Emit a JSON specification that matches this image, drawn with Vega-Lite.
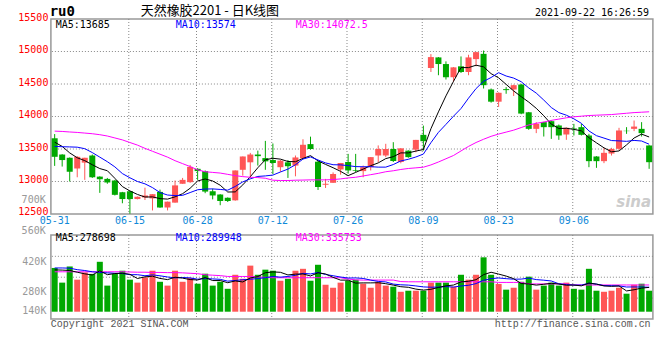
{
 "$schema": "https://vega.github.io/schema/vega-lite/v6.json",
 "background": "white",
 "padding": {"left": 16.9, "top": 3, "right": 5, "bottom": 5},
 "bounds": "flush",
 "spacing": 21,
 "config": {
  "view": {"stroke": "#999999", "strokeWidth": 1.5},
  "axis": {"title": null, "ticks": false, "domain": false, "labelFont": "DejaVu Sans Mono", "labelFontSize": 10, "labelOverlap": false, "tickCount": 20},
  "text": {"font": "DejaVu Sans Mono", "fontSize": 10}
 },
 "resolve": {"scale": {"x": "shared", "y": "independent"}},
 "datasets": {
  "k": [
   {"d":"05-31","o":13665,"h":13730,"l":13240,"c":13380,"m5":13605,"m10":13540,"m30":13775,"v":370,"mv5":361,"mv10":370,"mv30":352},
   {"d":"06-01","o":13415,"h":13420,"l":13230,"c":13330,"m5":13540,"m10":13535,"m30":13770,"v":301,"mv5":360,"mv10":370,"mv30":352},
   {"d":"06-02","o":13365,"h":13370,"l":13000,"c":13150,"m5":13440,"m10":13532,"m30":13762,"v":377,"mv5":358,"mv10":369,"mv30":352},
   {"d":"06-03","o":13200,"h":13390,"l":13065,"c":13380,"m5":13365,"m10":13528,"m30":13755,"v":315,"mv5":350,"mv10":362,"mv30":352},
   {"d":"06-04","o":13290,"h":13365,"l":13025,"c":13365,"m5":13321,"m10":13505,"m30":13745,"v":349,"mv5":342.4,"mv10":358,"mv30":352},
   {"d":"06-07","o":13400,"h":13415,"l":13055,"c":13065,"m5":13258,"m10":13445,"m30":13735,"v":342,"mv5":336.8,"mv10":352,"mv30":352},
   {"d":"06-08","o":13075,"h":13080,"l":12825,"c":13035,"m5":13199,"m10":13375,"m30":13720,"v":399,"mv5":356.4,"mv10":349,"mv30":352},
   {"d":"06-09","o":13040,"h":13055,"l":12965,"c":12985,"m5":13166,"m10":13305,"m30":13700,"v":287,"mv5":338.4,"mv10":347,"mv30":352},
   {"d":"06-10","o":13015,"h":13025,"l":12785,"c":12795,"m5":13049,"m10":13225,"m30":13670,"v":342,"mv5":343.8,"mv10":345,"mv30":352},
   {"d":"06-11","o":12835,"h":12840,"l":12665,"c":12730,"m5":12922,"m10":13122,"m30":13640,"v":357,"mv5":345.4,"mv10":343.9,"mv30":352},
   {"d":"06-15","o":12850,"h":12855,"l":12505,"c":12730,"m5":12855,"m10":13057,"m30":13600,"v":315,"mv5":340,"mv10":338.4,"mv30":351},
   {"d":"06-16","o":12730,"h":12770,"l":12725,"c":12765,"m5":12801,"m10":13000,"m30":13560,"v":301,"mv5":320.4,"mv10":338.4,"mv30":350},
   {"d":"06-17","o":12755,"h":12905,"l":12715,"c":12785,"m5":12761,"m10":12964,"m30":13510,"v":326,"mv5":328.2,"mv10":333.3,"mv30":350},
   {"d":"06-18","o":12740,"h":12805,"l":12555,"c":12805,"m5":12763,"m10":12906,"m30":13465,"v":357,"mv5":331.2,"mv10":337.5,"mv30":349},
   {"d":"06-21","o":12840,"h":12875,"l":12595,"c":12600,"m5":12737,"m10":12830,"m30":13420,"v":305,"mv5":320.8,"mv10":333.1,"mv30":349},
   {"d":"06-22","o":12600,"h":12690,"l":12555,"c":12690,"m5":12729,"m10":12792,"m30":13375,"v":287,"mv5":315.2,"mv10":327.6,"mv30":348},
   {"d":"06-23","o":12675,"h":13015,"l":12675,"c":12940,"m5":12764,"m10":12783,"m30":13320,"v":357,"mv5":326.4,"mv10":323.4,"mv30":348},
   {"d":"06-24","o":12965,"h":13055,"l":12965,"c":13025,"m5":12812,"m10":12787,"m30":13275,"v":305,"mv5":322.2,"mv10":325.2,"mv30":347},
   {"d":"06-25","o":12990,"h":13255,"l":12980,"c":13225,"m5":12896,"m10":12830,"m30":13230,"v":323,"mv5":315.4,"mv10":323.3,"mv30":345},
   {"d":"06-28","o":13195,"h":13205,"l":13025,"c":13160,"m5":13008,"m10":12873,"m30":13180,"v":296,"mv5":313.6,"mv10":317.2,"mv30":343},
   {"d":"06-29","o":13160,"h":13170,"l":12820,"c":12845,"m5":13039,"m10":12884,"m30":13150,"v":343,"mv5":324.8,"mv10":320,"mv30":338},
   {"d":"06-30","o":12850,"h":12890,"l":12725,"c":12785,"m5":13008,"m10":12886,"m30":13140,"v":287,"mv5":310.8,"mv10":318.6,"mv30":336},
   {"d":"07-01","o":12800,"h":12805,"l":12635,"c":12700,"m5":12943,"m10":12878,"m30":13130,"v":305,"mv5":310.8,"mv10":316.5,"mv30":334},
   {"d":"07-02","o":12750,"h":12755,"l":12685,"c":12700,"m5":12838,"m10":12867,"m30":13110,"v":272,"mv5":300.6,"mv10":308,"mv30":330},
   {"d":"07-05","o":12710,"h":13170,"l":12705,"c":13170,"m5":12840,"m10":12924,"m30":13090,"v":338,"mv5":309,"mv10":311.3,"mv30":330},
   {"d":"07-06","o":13180,"h":13385,"l":13090,"c":13385,"m5":12948,"m10":12994,"m30":13075,"v":319,"mv5":304.2,"mv10":314.5,"mv30":330},
   {"d":"07-07","o":13295,"h":13440,"l":13055,"c":13415,"m5":13074,"m10":13041,"m30":13065,"v":381,"mv5":323,"mv10":316.9,"mv30":330},
   {"d":"07-08","o":13415,"h":13475,"l":13245,"c":13390,"m5":13212,"m10":13078,"m30":13060,"v":338,"mv5":329.6,"mv10":320.2,"mv30":328},
   {"d":"07-09","o":13360,"h":13625,"l":13180,"c":13310,"m5":13334,"m10":13086,"m30":13050,"v":362,"mv5":347.6,"mv10":324.1,"mv30":326},
   {"d":"07-12","o":13330,"h":13585,"l":13115,"c":13285,"m5":13357,"m10":13099,"m30":13020,"v":357,"mv5":351.4,"mv10":330.2,"mv30":324},
   {"d":"07-13","o":13220,"h":13330,"l":13150,"c":13320,"m5":13344,"m10":13146,"m30":13015,"v":310,"mv5":349.6,"mv10":326.9,"mv30":324},
   {"d":"07-14","o":13295,"h":13330,"l":13055,"c":13235,"m5":13308,"m10":13191,"m30":13015,"v":319,"mv5":337.2,"mv10":330.1,"mv30":324},
   {"d":"07-15","o":13245,"h":13400,"l":13080,"c":13370,"m5":13304,"m10":13258,"m30":13020,"v":357,"mv5":341,"mv10":335.3,"mv30":324},
   {"d":"07-16","o":13355,"h":13650,"l":13345,"c":13565,"m5":13355,"m10":13345,"m30":13022,"v":366,"mv5":341.8,"mv10":344.7,"mv30":324},
   {"d":"07-19","o":13575,"h":13690,"l":13490,"c":13500,"m5":13398,"m10":13378,"m30":13025,"v":310,"mv5":332.4,"mv10":341.9,"mv30":324},
   {"d":"07-20","o":13305,"h":13320,"l":12870,"c":12915,"m5":13317,"m10":13331,"m30":13025,"v":385,"mv5":347.4,"mv10":348.5,"mv30":324},
   {"d":"07-21","o":12950,"h":13040,"l":12900,"c":12965,"m5":13263,"m10":13286,"m30":13025,"v":291,"mv5":341.8,"mv10":339.5,"mv30":324},
   {"d":"07-22","o":12980,"h":13140,"l":12980,"c":13115,"m5":13212,"m10":13258,"m30":13030,"v":277,"mv5":325.8,"mv10":333.4,"mv30":324},
   {"d":"07-23","o":13185,"h":13285,"l":13105,"c":13285,"m5":13156,"m10":13256,"m30":13040,"v":301,"mv5":312.8,"mv10":327.3,"mv30":324},
   {"d":"07-26","o":13300,"h":13425,"l":13120,"c":13170,"m5":13090,"m10":13244,"m30":13055,"v":310,"mv5":312.8,"mv10":322.6,"mv30":318},
   {"d":"07-27","o":13175,"h":13425,"l":13145,"c":13165,"m5":13140,"m10":13229,"m30":13065,"v":315,"mv5":298.8,"mv10":323.1,"mv30":314},
   {"d":"07-28","o":13160,"h":13245,"l":13065,"c":13220,"m5":13191,"m10":13227,"m30":13085,"v":296,"mv5":299.8,"mv10":320.8,"mv30":313},
   {"d":"07-29","o":13220,"h":13375,"l":13170,"c":13375,"m5":13243,"m10":13228,"m30":13105,"v":277,"mv5":299.8,"mv10":312.8,"mv30":313},
   {"d":"07-30","o":13400,"h":13555,"l":13297,"c":13500,"m5":13286,"m10":13221,"m30":13125,"v":305,"mv5":300.6,"mv10":306.7,"mv30":313},
   {"d":"08-02","o":13400,"h":13580,"l":13375,"c":13500,"m5":13352,"m10":13221,"m30":13150,"v":287,"mv5":296,"mv10":304.4,"mv30":313},
   {"d":"08-03","o":13500,"h":13605,"l":13300,"c":13315,"m5":13382,"m10":13261,"m30":13165,"v":282,"mv5":289.4,"mv10":294.1,"mv30":313},
   {"d":"08-04","o":13300,"h":13510,"l":13280,"c":13510,"m5":13440,"m10":13316,"m30":13185,"v":258,"mv5":281.8,"mv10":290.8,"mv30":306},
   {"d":"08-05","o":13475,"h":13480,"l":13365,"c":13375,"m5":13440,"m10":13342,"m30":13200,"v":263,"mv5":279,"mv10":289.4,"mv30":305},
   {"d":"08-06","o":13490,"h":13640,"l":13450,"c":13640,"m5":13468,"m10":13377,"m30":13210,"v":263,"mv5":270.6,"mv10":285.6,"mv30":305},
   {"d":"08-09","o":13718,"h":13860,"l":13475,"c":13620,"m5":13492,"m10":13422,"m30":13220,"v":263,"mv5":265.8,"mv10":280.9,"mv30":305},
   {"d":"08-10","o":14746,"h":14960,"l":14685,"c":14914,"m5":13812,"m10":13597,"m30":13255,"v":301,"mv5":269.6,"mv10":279.5,"mv30":305},
   {"d":"08-11","o":14909,"h":14915,"l":14635,"c":14807,"m5":14071,"m10":13756,"m30":13300,"v":301,"mv5":278.2,"mv10":280,"mv30":305},
   {"d":"08-12","o":14807,"h":14848,"l":14569,"c":14604,"m5":14317,"m10":13879,"m30":13350,"v":301,"mv5":285.8,"mv10":282.4,"mv30":305},
   {"d":"08-13","o":14604,"h":14760,"l":14533,"c":14756,"m5":14540,"m10":14004,"m30":13400,"v":282,"mv5":289.6,"mv10":280.1,"mv30":305},
   {"d":"08-16","o":14772,"h":14924,"l":14670,"c":14685,"m5":14753,"m10":14123,"m30":13470,"v":338,"mv5":304.6,"mv10":285.2,"mv30":305},
   {"d":"08-17","o":14685,"h":14950,"l":14635,"c":14909,"m5":14752,"m10":14282,"m30":13540,"v":315,"mv5":307.4,"mv10":288.5,"mv30":305},
   {"d":"08-18","o":14883,"h":14995,"l":14772,"c":14990,"m5":14789,"m10":14430,"m30":13600,"v":338,"mv5":314.8,"mv10":296.5,"mv30":305},
   {"d":"08-19","o":14964,"h":15015,"l":14431,"c":14482,"m5":14764,"m10":14541,"m30":13650,"v":420,"mv5":338.6,"mv10":312.2,"mv30":305},
   {"d":"08-20","o":14416,"h":14431,"l":14213,"c":14228,"m5":14659,"m10":14600,"m30":13695,"v":338,"mv5":349.8,"mv10":319.7,"mv30":305},
   {"d":"08-23","o":14228,"h":14370,"l":14147,"c":14365,"m5":14595,"m10":14674,"m30":13730,"v":295,"mv5":341.2,"mv10":322.9,"mv30":302},
   {"d":"08-24","o":14421,"h":14452,"l":14350,"c":14406,"m5":14494,"m10":14623,"m30":13760,"v":268,"mv5":331.8,"mv10":319.6,"mv30":302},
   {"d":"08-25","o":14416,"h":14490,"l":14315,"c":14482,"m5":14393,"m10":14591,"m30":13790,"v":277,"mv5":319.6,"mv10":317.2,"mv30":302},
   {"d":"08-26","o":14492,"h":14502,"l":14035,"c":14045,"m5":14305,"m10":14535,"m30":13830,"v":305,"mv5":296.6,"mv10":317.6,"mv30":302},
   {"d":"08-27","o":14065,"h":14070,"l":13795,"c":13810,"m5":14222,"m10":14440,"m30":13870,"v":329,"mv5":294.8,"mv10":322.3,"mv30":295},
   {"d":"08-30","o":13810,"h":13913,"l":13744,"c":13887,"m5":14126,"m10":14360,"m30":13895,"v":268,"mv5":289.4,"mv10":315.3,"mv30":295},
   {"d":"08-31","o":13913,"h":13918,"l":13692,"c":13836,"m5":14012,"m10":14253,"m30":13915,"v":287,"mv5":293.2,"mv10":312.5,"mv30":295},
   {"d":"09-01","o":13928,"h":13938,"l":13656,"c":13836,"m5":13883,"m10":14138,"m30":13940,"v":301,"mv5":298,"mv10":308.8,"mv30":295},
   {"d":"09-02","o":13862,"h":13877,"l":13641,"c":13708,"m5":13815,"m10":14060,"m30":13960,"v":287,"mv5":294.4,"mv10":295.5,"mv30":295},
   {"d":"09-03","o":13723,"h":13830,"l":13641,"c":13826,"m5":13819,"m10":14020,"m30":13980,"v":301,"mv5":288.8,"mv10":291.8,"mv30":295},
   {"d":"09-06","o":13815,"h":13887,"l":13708,"c":13805,"m5":13802,"m10":13964,"m30":13995,"v":272,"mv5":289.6,"mv10":289.5,"mv30":290},
   {"d":"09-07","o":13836,"h":13887,"l":13708,"c":13718,"m5":13779,"m10":13895,"m30":14005,"v":268,"mv5":285.8,"mv10":289.5,"mv30":290},
   {"d":"09-08","o":13708,"h":13733,"l":13220,"c":13313,"m5":13674,"m10":13778,"m30":14015,"v":366,"mv5":298.8,"mv10":298.4,"mv30":290},
   {"d":"09-09","o":13385,"h":13390,"l":13210,"c":13313,"m5":13595,"m10":13705,"m30":14020,"v":263,"mv5":294,"mv10":294.2,"mv30":290},
   {"d":"09-10","o":13313,"h":13518,"l":13282,"c":13441,"m5":13518,"m10":13668,"m30":14025,"v":258,"mv5":285.4,"mv10":287.1,"mv30":290},
   {"d":"09-13","o":13430,"h":13518,"l":13400,"c":13500,"m5":13457,"m10":13630,"m30":14030,"v":263,"mv5":283.6,"mv10":286.6,"mv30":290},
   {"d":"09-14","o":13503,"h":13826,"l":13487,"c":13785,"m5":13470,"m10":13625,"m30":14040,"v":277,"mv5":285.4,"mv10":285.6,"mv30":290},
   {"d":"09-15","o":13780,"h":13836,"l":13733,"c":13775,"m5":13563,"m10":13618,"m30":14050,"v":249,"mv5":262,"mv10":280.4,"mv30":290},
   {"d":"09-16","o":13810,"h":13938,"l":13775,"c":13845,"m5":13669,"m10":13632,"m30":14060,"v":291,"mv5":267.6,"mv10":280.8,"mv30":290},
   {"d":"09-17","o":13810,"h":13913,"l":13692,"c":13744,"m5":13729,"m10":13623,"m30":14066,"v":296,"mv5":275.2,"mv10":280.3,"mv30":290},
   {"d":"09-22","o":13554,"h":13560,"l":13195,"c":13297,"m5":13685,"m10":13574,"m30":14072.5,"v":263,"mv5":278.7,"mv10":279.4,"mv30":290}
  ]
 },
 "vconcat": [
  {
   "width": 602,
   "height": 195,
   "data": {"name": "k"},
   "encoding": {
    "x": {"field": "d", "type": "ordinal", "sort": null,
     "scale": {"type": "band", "paddingInner": 0, "paddingOuter": 0,
      "domain": ["05-31","06-01","06-02","06-03","06-04","06-07","06-08","06-09","06-10","06-11","06-15","06-16","06-17","06-18","06-21","06-22","06-23","06-24","06-25","06-28","06-29","06-30","07-01","07-02","07-05","07-06","07-07","07-08","07-09","07-12","07-13","07-14","07-15","07-16","07-19","07-20","07-21","07-22","07-23","07-26","07-27","07-28","07-29","07-30","08-02","08-03","08-04","08-05","08-06","08-09","08-10","08-11","08-12","08-13","08-16","08-17","08-18","08-19","08-20","08-23","08-24","08-25","08-26","08-27","08-30","08-31","09-01","09-02","09-03","09-06","09-07","09-08","09-09","09-10","09-13","09-14","09-15","09-16","09-17","09-22"]},
     "axis": {"values": ["05-31","06-15","06-28","07-12","07-26","08-09","08-23","09-06"], "bandPosition": 0.35, "labelAngle": 0, "labelColor": "#1089d8", "labelPadding": 2, "grid": false, "labelOverlap": false, "tickCount": 20}}
   },
   "layer": [
    {"data": {"values": [{"p": 13000}, {"p": 13500}, {"p": 14000}, {"p": 14500}, {"p": 15000}]},
     "mark": {"type": "rule", "color": "#888888", "strokeDash": [1, 2], "strokeWidth": 1},
     "encoding": {"x": null, "y": {"field": "p", "type": "quantitative"}}},
    {"data": {"values": [{"t": "06-15"}, {"t": "06-28"}, {"t": "07-12"}, {"t": "07-26"}, {"t": "08-09"}, {"t": "08-23"}, {"t": "09-06"}]},
     "mark": {"type": "rule", "color": "#888888", "strokeDash": [1, 2], "strokeWidth": 1},
     "encoding": {"x": {"field": "t", "type": "ordinal", "bandPosition": 0.35}}},
    {"mark": {"type": "rule", "strokeWidth": 1},
     "encoding": {
      "y": {"field": "l", "type": "quantitative", "scale": {"domain": [12500, 15500], "zero": false, "nice": false},
       "axis": {"values": [12500, 13000, 13500, 14000, 14500, 15000, 15500], "tickCount": 20, "format": "d", "labelColor": "#ff0000", "labelPadding": 3, "labelOffset": -2, "grid": false, "labelOverlap": false}},
      "y2": {"field": "h"},
      "color": {"condition": {"test": "datum.c >= datum.o", "value": "#ff5656"}, "value": "#00a800"}}},
    {"mark": {"type": "bar", "width": {"band": 0.8}},
     "encoding": {
      "y": {"field": "o", "type": "quantitative"},
      "y2": {"field": "c"},
      "color": {"condition": {"test": "datum.c >= datum.o", "value": "#ff5656"}, "value": "#00a800"}}},
    {"mark": {"type": "line", "color": "#000000", "strokeWidth": 1}, "encoding": {"y": {"field": "m5", "type": "quantitative"}}},
    {"mark": {"type": "line", "color": "#0000ff", "strokeWidth": 1}, "encoding": {"y": {"field": "m10", "type": "quantitative"}}},
    {"mark": {"type": "line", "color": "#ff00ff", "strokeWidth": 1}, "encoding": {"y": {"field": "m30", "type": "quantitative"}}},
    {"data": {"values": [{}]}, "mark": {"type": "text", "text": "ru0", "align": "left", "baseline": "middle", "dx": -5, "dy": -7, "fontSize": 14, "fontWeight": "bold", "color": "#000000"},
     "encoding": {"x": {"datum": "05-31", "type": "ordinal"}, "y": {"datum": 15500, "type": "quantitative"}}},
    {"data": {"values": [{}]}, "mark": {"type": "text", "text": "天然橡胶2201 - 日K线图", "align": "left", "baseline": "middle", "dx": 86, "dy": -8.5, "font": "Noto Sans CJK SC", "fontSize": 13, "color": "#000000"},
     "encoding": {"x": {"datum": "05-31", "type": "ordinal"}, "y": {"datum": 15500, "type": "quantitative"}}},
    {"data": {"values": [{}]}, "mark": {"type": "text", "text": "2021-09-22 16:26:59", "align": "right", "baseline": "middle", "dx": 0, "dy": -6.5, "color": "#000000"},
     "encoding": {"x": {"datum": "09-22", "type": "ordinal"}, "y": {"datum": 15500, "type": "quantitative"}}},
    {"data": {"values": [{}]}, "mark": {"type": "text", "text": "MA5:13685", "align": "left", "baseline": "middle", "dx": 1, "dy": 6, "color": "#000000"},
     "encoding": {"x": {"datum": "05-31", "type": "ordinal"}, "y": {"datum": 15500, "type": "quantitative"}}},
    {"data": {"values": [{}]}, "mark": {"type": "text", "text": "MA10:13574", "align": "left", "baseline": "middle", "dx": 121, "dy": 6, "color": "#0000ff"},
     "encoding": {"x": {"datum": "05-31", "type": "ordinal"}, "y": {"datum": 15500, "type": "quantitative"}}},
    {"data": {"values": [{}]}, "mark": {"type": "text", "text": "MA30:14072.5", "align": "left", "baseline": "middle", "dx": 241, "dy": 6, "color": "#ff00ff"},
     "encoding": {"x": {"datum": "05-31", "type": "ordinal"}, "y": {"datum": 15500, "type": "quantitative"}}},
    {"data": {"values": [{}]}, "mark": {"type": "text", "text": "700K", "align": "right", "baseline": "middle", "dx": -9, "color": "#999999"},
     "encoding": {"x": {"datum": "05-31", "type": "ordinal"}, "y": {"datum": 12708, "type": "quantitative"}}},
    {"data": {"values": [{}]}, "mark": {"type": "text", "text": "sina", "align": "right", "baseline": "middle", "dx": 2, "font": "DejaVu Sans", "fontSize": 15, "fontStyle": "italic", "fontWeight": "bold", "color": "#cccccc"},
     "encoding": {"x": {"datum": "09-22", "type": "ordinal"}, "y": {"datum": 12692, "type": "quantitative"}}}
   ]
  },
  {
   "width": 602,
   "height": 84,
   "data": {"name": "k"},
   "layer": [
    {"data": {"values": [{"g": 424.7}, {"g": 326.5}, {"g": 228.2}]},
     "mark": {"type": "rule", "color": "#888888", "strokeDash": [1, 2], "strokeWidth": 1},
     "encoding": {"y": {"field": "g", "type": "quantitative"}}},
    {"data": {"values": [{"t": "06-15"}, {"t": "06-28"}, {"t": "07-12"}, {"t": "07-26"}, {"t": "08-09"}, {"t": "08-23"}, {"t": "09-06"}]},
     "mark": {"type": "rule", "color": "#888888", "strokeDash": [1, 2], "strokeWidth": 1},
     "encoding": {"x": {"field": "t", "type": "ordinal", "bandPosition": 0.35}}},
    {"mark": {"type": "bar", "width": {"band": 0.8}},
     "encoding": {
      "x": {"field": "d", "type": "ordinal", "sort": null,
       "axis": {"values": ["05-31","06-15","06-28","07-12","07-26","08-09","08-23","09-06"], "labels": false, "grid": false, "tickCount": 20}},
      "y": {"field": "v", "type": "quantitative", "scale": {"domain": [130, 525], "zero": false, "nice": false},
       "axis": {"values": [140, 280, 420], "tickCount": 20, "labelExpr": "datum.value + 'K'", "labelColor": "#999999", "labelPadding": 5, "grid": false, "labelOverlap": false,
        "labelOffset": {"condition": {"test": "datum.value == 140", "value": -6}, "value": 4}}},
      "y2": {"datum": 164.3},
      "color": {"condition": {"test": "datum.c >= datum.o", "value": "#ff5656"}, "value": "#00a800"}}},
    {"mark": {"type": "line", "color": "#ff00ff", "strokeWidth": 1}, "encoding": {"x": {"field": "d", "type": "ordinal", "sort": null}, "y": {"field": "mv30", "type": "quantitative"}}},
    {"mark": {"type": "line", "color": "#0000ff", "strokeWidth": 1}, "encoding": {"x": {"field": "d", "type": "ordinal", "sort": null}, "y": {"field": "mv10", "type": "quantitative"}}},
    {"mark": {"type": "line", "color": "#000000", "strokeWidth": 1}, "encoding": {"x": {"field": "d", "type": "ordinal", "sort": null}, "y": {"field": "mv5", "type": "quantitative"}}},
    {"data": {"values": [{}]}, "mark": {"type": "text", "text": "560K", "align": "right", "baseline": "middle", "dx": -9, "dy": -3.5, "color": "#999999"},
     "encoding": {"x": {"datum": "05-31", "type": "ordinal"}, "y": {"datum": 525, "type": "quantitative"}}},
    {"data": {"values": [{}]}, "mark": {"type": "text", "text": "MA5:278698", "align": "left", "baseline": "middle", "dx": 1, "dy": 3.5, "color": "#000000"},
     "encoding": {"x": {"datum": "05-31", "type": "ordinal"}, "y": {"datum": 525, "type": "quantitative"}}},
    {"data": {"values": [{}]}, "mark": {"type": "text", "text": "MA10:289948", "align": "left", "baseline": "middle", "dx": 121, "dy": 3.5, "color": "#0000ff"},
     "encoding": {"x": {"datum": "05-31", "type": "ordinal"}, "y": {"datum": 525, "type": "quantitative"}}},
    {"data": {"values": [{}]}, "mark": {"type": "text", "text": "MA30:335753", "align": "left", "baseline": "middle", "dx": 241, "dy": 3.5, "color": "#ff00ff"},
     "encoding": {"x": {"datum": "05-31", "type": "ordinal"}, "y": {"datum": 525, "type": "quantitative"}}},
    {"data": {"values": [{}]}, "mark": {"type": "text", "text": "Copyright 2021 SINA.COM", "align": "left", "baseline": "middle", "dx": -4, "dy": 5, "font": "Liberation Mono", "color": "#555555"},
     "encoding": {"x": {"datum": "05-31", "type": "ordinal"}, "y": {"datum": 130, "type": "quantitative"}}},
    {"data": {"values": [{}]}, "mark": {"type": "text", "text": "http://finance.sina.com.cn", "align": "right", "baseline": "middle", "dx": 1.5, "dy": 5, "font": "Liberation Mono", "color": "#555555"},
     "encoding": {"x": {"datum": "09-22", "type": "ordinal"}, "y": {"datum": 130, "type": "quantitative"}}}
   ]
  }
 ]
}
